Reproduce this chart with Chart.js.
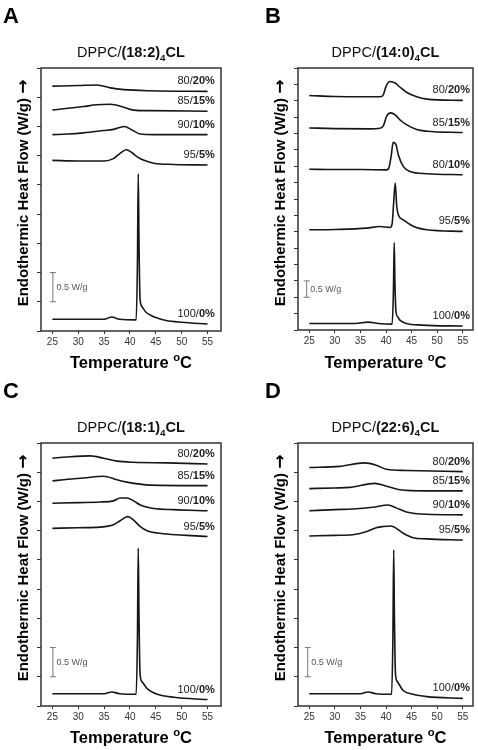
<!DOCTYPE html>
<html>
<head>
<meta charset="utf-8">
<script src="https://cdn.jsdelivr.net/npm/chart.js@4.4.0/dist/chart.umd.min.js"></script>
<style>
	body { margin: 0; background: #fff; }
	.panel { position: absolute; width: 239px; height: 375px; }
</style>
</head>
<body>
<div class="panel" style="left:0;top:0"><canvas id="chartA" width="239" height="375"></canvas></div>
<div class="panel" style="left:239px;top:0"><canvas id="chartB" width="239" height="375"></canvas></div>
<div class="panel" style="left:0;top:375px"><canvas id="chartC" width="239" height="375"></canvas></div>
<div class="panel" style="left:239px;top:375px"><canvas id="chartD" width="239" height="375"></canvas></div>
<script>
// temperature ticks (°C)
const xTicks = [25, 30, 35, 40, 45, 50, 55];

// curve labels, [DPPC part, CL part]
const labelsACD = [['80/', '20%'], ['85/', '15%'], ['90/', '10%'], ['95/', '5%'], ['100/', '0%']];
const labelsB = [['80/', '20%'], ['85/', '15%'], ['80/', '10%'], ['95/', '5%'], ['100/', '0%']];

// A: DPPC/(18:2)4CL, [temperature, W/g]
const a80 = [[25,4.19],[30,4.20],[33.6,4.21],[36.2,4.16],[38.8,4.13],[44,4.11],[55,4.10]];
const a85 = [[25,3.78],[28,3.81],[31,3.84],[33.5,3.87],[36.2,3.88],[38.8,3.83],[40.7,3.78],[44,3.77],[55,3.76]];
const a90 = [[25,3.36],[28,3.37],[31,3.39],[34.9,3.43],[36.8,3.45],[38.9,3.50],[40.4,3.44],[42,3.37],[44.6,3.36],[55,3.36]];
const a95 = [[25,2.92],[30,2.91],[35,2.91],[36.8,2.95],[38.1,3.04],[39.3,3.10],[40.4,3.05],[41.4,2.98],[42.7,2.92],[44.6,2.87],[48.5,2.85],[55,2.84]];
const a100 = [[25,0.20],[30,0.20],[35,0.20],[36.5,0.24],[38,0.20],[41.2,0.19],[41.45,1.2],[41.6,2.69],[41.75,1.5],[41.95,0.55],[42.3,0.42],[43,0.33],[44,0.27],[45,0.23],[47,0.18],[50,0.15],[55,0.12]];

// B: DPPC/(14:0)4CL
const b80 = [[25,7.16],[30,7.13],[35,7.12],[38.8,7.12],[39.5,7.19],[40,7.44],[40.8,7.59],[41.8,7.54],[42.7,7.42],[44,7.26],[46,7.12],[48,7.05],[55,7.01]];
const b85 = [[25,6.17],[30,6.15],[36.9,6.14],[38.8,6.16],[39.5,6.24],[40.1,6.52],[40.9,6.63],[41.8,6.57],[42.7,6.42],[44,6.27],[46,6.12],[48,6.07],[55,6.03]];
const b90 = [[25,4.91],[30,4.90],[35,4.90],[40.1,4.89],[40.6,4.97],[41.0,5.30],[41.4,5.73],[41.96,5.66],[42.4,5.35],[43.4,4.99],[44.7,4.84],[48,4.77],[55,4.74]];
const b95 = [[25,3.06],[30,3.07],[36.2,3.11],[38.8,3.16],[40.8,3.13],[41.2,3.25],[41.5,3.90],[41.8,4.49],[42.1,3.77],[42.4,3.52],[43.4,3.36],[45.4,3.16],[48,3.06],[55,3.01]];
const b100 = [[25,0.20],[30,0.20],[34,0.20],[36.5,0.24],[38.5,0.20],[41.2,0.18],[41.45,1.2],[41.6,2.67],[41.75,1.4],[41.95,0.55],[42.3,0.40],[42.7,0.30],[44,0.20],[47,0.15],[55,0.12]];

// C: DPPC/(18:1)4CL
const c80 = [[25,4.24],[27.7,4.26],[32.3,4.28],[34.9,4.24],[37.5,4.19],[40.7,4.17],[47.2,4.16],[55,4.14]];
const c85 = [[25,3.85],[28,3.88],[31,3.90],[34.9,3.93],[37.5,3.87],[39.4,3.83],[44,3.78],[55,3.77]];
const c90 = [[25,3.47],[30,3.48],[34.2,3.49],[36.8,3.51],[38.1,3.56],[39.4,3.56],[40.7,3.51],[42,3.44],[44.6,3.38],[48.5,3.36],[55,3.34]];
const c95 = [[25,3.04],[30,3.05],[34.2,3.06],[36.8,3.10],[38.1,3.17],[39.6,3.24],[40.7,3.18],[42,3.07],[43.3,3.00],[45.3,2.96],[55,2.90]];
const c100 = [[25,0.21],[30,0.21],[35,0.21],[36.5,0.24],[38,0.21],[41.2,0.20],[41.45,1.2],[41.6,2.70],[41.75,1.5],[41.95,0.55],[42.3,0.42],[43.3,0.30],[45.3,0.20],[48.5,0.15],[55,0.11]];

// D: DPPC/(22:6)4CL
const d80 = [[25,4.08],[30.9,4.10],[35.8,4.16],[38.1,4.12],[40.1,4.05],[44,4.03],[55,4.01]];
const d85 = [[25,3.72],[30,3.73],[32.9,3.74],[37.8,3.81],[40.1,3.76],[42.7,3.70],[47.9,3.68],[55,3.68]];
const d90 = [[25,3.34],[30,3.36],[33.5,3.37],[37.4,3.40],[40.4,3.44],[42,3.39],[44,3.32],[47.9,3.28],[55,3.27]];
const d95 = [[25,2.91],[30,2.92],[33.5,2.93],[36.1,2.98],[38.1,3.05],[39.4,3.07],[41,3.08],[42,3.04],[43.3,2.96],[45.3,2.88],[47.9,2.86],[55,2.84]];
const d100 = [[25,0.21],[30,0.21],[35,0.21],[36.5,0.24],[38,0.21],[41.1,0.20],[41.35,1.2],[41.5,2.67],[41.65,1.5],[41.85,0.55],[42.2,0.42],[43.3,0.27],[45.3,0.20],[48,0.16],[55,0.13]];

const FONT = '"Liberation Sans", Arial, sans-serif';
Chart.defaults.font.family = FONT;

// draws a row of text pieces with mixed weight / sub / superscript
function drawRich(ctx, parts, x, y, size, align) {
	const fontOf = (p) => p.font || ((p.bold ? 'bold ' : '') + (p.sub || p.sup ? size * 0.68 : size) + 'px ' + FONT);
	let total = 0;
	parts.forEach((p) => {
		ctx.font = fontOf(p);
		p.w = ctx.measureText(p.t).width;
		total += p.w;
	});
	let cx = align === 'right' ? x - total : (align === 'center' ? x - total / 2 : x);
	ctx.textAlign = 'left';
	parts.forEach((p) => {
		ctx.font = fontOf(p);
		let dy = 0;
		if (p.sub) dy = size * 0.3;
		if (p.sup) dy = -size * 0.42;
		ctx.fillText(p.t, cx, y + dy);
		cx += p.w;
	});
}

function textPlugin(p) {
	return {
		id: 'panelText',
		afterDraw(chart) {
			const ctx = chart.ctx;
			const a = chart.chartArea;
			const xs = chart.scales.x;
			const ys = chart.scales.y;
			const mid = (a.left + a.right) / 2;

			ctx.save();
			// frame
			ctx.strokeStyle = '#333';
			ctx.lineWidth = 1.5;
			ctx.strokeRect(a.left, a.top, a.right - a.left, a.bottom - a.top);

			// panel letter
			ctx.fillStyle = '#000';
			ctx.font = 'bold 22px ' + FONT;
			ctx.textAlign = 'left';
			ctx.textBaseline = 'alphabetic';
			ctx.fillText(p.letter, a.left - p.letterOff, 23);

			// title
			ctx.fillStyle = '#111';
			drawRich(ctx, [
				{ t: 'DPPC/' },
				{ t: p.lipid, bold: true },
				{ t: '4', bold: true, sub: true },
				{ t: 'CL', bold: true }
			], mid, 57, 14.5, 'center');

			// x title
			ctx.fillStyle = '#000';
			drawRich(ctx, [
				{ t: 'Temperature ', bold: true },
				{ t: 'o', bold: true, sup: true },
				{ t: 'C', bold: true }
			], mid, 368, 16.5, 'center');

			// y title
			ctx.save();
			ctx.translate(a.left - 17, 193);
			ctx.rotate(-Math.PI / 2);
			ctx.textBaseline = 'middle';
			drawRich(ctx, [
				{ t: 'Endothermic Heat Flow (W/g) ', bold: true },
				{ t: '\u2192', font: 'bold 17px "DejaVu Sans"' }
			], 0, 0, 15, 'center');
			ctx.restore();

			// curve labels
			ctx.fillStyle = '#222';
			ctx.textBaseline = 'middle';
			const lx = xs.getPixelForValue(56.4);
			p.series.forEach((s, i) => {
				const ly = ys.getPixelForValue(s[s.length - 1][1]) - 10;
				drawRich(ctx, [
					{ t: p.labels[i][0] },
					{ t: p.labels[i][1], bold: true }
				], lx, ly, 11, 'right');
			});

			// 0.5 W/g scale bar
			const bx = xs.getPixelForValue(p.bar[0]);
			const by1 = ys.getPixelForValue(p.bar[1]);
			const by2 = ys.getPixelForValue(p.bar[2]);
			ctx.strokeStyle = '#777';
			ctx.lineWidth = 1;
			ctx.beginPath();
			ctx.moveTo(bx, by1);
			ctx.lineTo(bx, by2);
			ctx.moveTo(bx - 3, by1);
			ctx.lineTo(bx + 3, by1);
			ctx.moveTo(bx - 3, by2);
			ctx.lineTo(bx + 3, by2);
			ctx.stroke();
			ctx.fillStyle = '#555';
			ctx.font = '9px ' + FONT;
			ctx.textAlign = 'left';
			ctx.textBaseline = 'middle';
			ctx.fillText('0.5 W/g', bx + 3.5, (by1 + by2) / 2);
			ctx.restore();
		}
	};
}

function makeChart(id, p) {
	return new Chart(document.getElementById(id), {
		type: 'line',
		data: {
			datasets: p.series.map((s) => ({
				data: s,
				borderColor: '#161616',
				borderWidth: 1.6,
				pointRadius: 0,
				fill: false,
				cubicInterpolationMode: 'monotone'
			}))
		},
		options: {
			responsive: false,
			animation: false,
			devicePixelRatio: 1,
			layout: {
				padding: { left: p.left - 41, right: 239 - p.right, top: 68, bottom: 375 - p.bottom - 30 }
			},
			scales: {
				x: {
					type: 'linear',
					min: 22.8,
					max: p.xMax,
					afterBuildTicks: (s) => { s.ticks = xTicks.map((v) => ({ value: v })); },
					afterFit: (s) => { s.height = 30; },
					grid: { drawOnChartArea: false, drawTicks: true, tickLength: 3, color: '#333' },
					border: { display: false },
					ticks: { color: '#333', font: { size: 10 }, padding: 2, maxRotation: 0 }
				},
				y: {
					min: 0,
					max: p.yMax,
					afterFit: (s) => { s.width = 41; },
					grid: { drawOnChartArea: false, drawTicks: true, tickLength: 4, color: '#333' },
					border: { display: false },
					ticks: { display: false, stepSize: 0.5 }
				}
			},
			plugins: {
				legend: { display: false },
				tooltip: { enabled: false }
			}
		},
		plugins: [textPlugin(p)]
	});
}

makeChart('chartA', {
	letter: 'A', letterOff: 38, lipid: '(18:2)',
	series: [a80, a85, a90, a95, a100], labels: labelsACD,
	left: 41, right: 221, bottom: 331, xMax: 57.6, yMax: 4.5,
	bar: [25.1, 0.5, 1.0]
});
makeChart('chartB', {
	letter: 'B', letterOff: 33, lipid: '(14:0)',
	series: [b80, b85, b90, b95, b100], labels: labelsB,
	left: 59, right: 234, bottom: 330, xMax: 57.0, yMax: 8,
	bar: [24.5, 1.0, 1.5]
});
makeChart('chartC', {
	letter: 'C', letterOff: 38, lipid: '(18:1)',
	series: [c80, c85, c90, c95, c100], labels: labelsACD,
	left: 41, right: 221, bottom: 331, xMax: 57.6, yMax: 4.5,
	bar: [25.1, 0.5, 1.0]
});
makeChart('chartD', {
	letter: 'D', letterOff: 33, lipid: '(22:6)',
	series: [d80, d85, d90, d95, d100], labels: labelsACD,
	left: 59, right: 234, bottom: 331, xMax: 57.0, yMax: 4.5,
	bar: [24.7, 0.5, 1.0]
});
</script>
</body>
</html>
